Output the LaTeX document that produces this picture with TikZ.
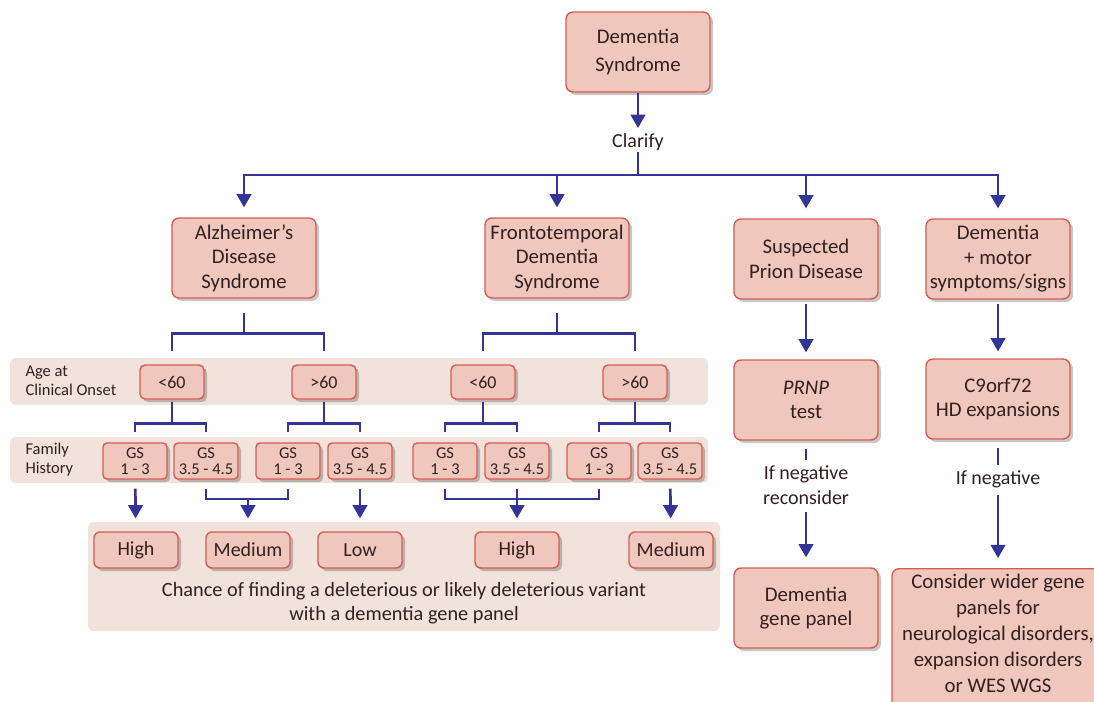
\documentclass[tikz,border=0pt]{standalone}
\usepackage{fontspec}
\setmainfont{Carlito}
\usetikzlibrary{arrows,shadows}

\definecolor{boxfill}{RGB}{239,199,189}
\definecolor{boxline}{RGB}{214,92,84}
\definecolor{bandfill}{RGB}{242,226,220}
\definecolor{linkblue}{RGB}{52,52,150}
\definecolor{inktext}{RGB}{50,32,32}

\begin{document}
\begin{tikzpicture}[x=1pt,y=-1pt,>=triangle 60,
        main node/.style={rectangle,rounded corners=7pt,draw=boxline,line width=1.4pt,
          fill=boxfill,text=inktext,align=center,inner sep=2pt,
          minimum width=144pt,minimum height=80pt,
          font=\fontsize{20.8}{24.5}\selectfont,
          drop shadow={shadow xshift=3pt,shadow yshift=-3pt,opacity=0.22,fill=black}},
        age node/.style={main node,rounded corners=5pt,minimum width=64pt,minimum height=34pt,
          font=\fontsize{18}{20}\selectfont},
        gs node/.style={main node,rounded corners=4pt,minimum width=64pt,minimum height=36pt,
          inner sep=1pt,font=\fontsize{16.5}{15.5}\selectfont},
        result node/.style={main node,rounded corners=6pt,minimum width=84pt,minimum height=36pt,
          font=\fontsize{20}{22}\selectfont},
        band/.style={fill=bandfill,rounded corners=6pt},
        label text/.style={text=inktext,align=center,font=\fontsize{20}{24.5}\selectfont},
        band text/.style={text=inktext,align=left,anchor=west,font=\fontsize{16.5}{19}\selectfont},
        link/.style={draw=linkblue,line width=2.7pt}]
        \useasboundingbox (0,0) rectangle (1094,701);

        % background bands
        \fill[band] (10,358) rectangle (708,405);
        \fill[band] (10,437) rectangle (708,483);
        \fill[band] (88,522) rectangle (720,631);
        \node[band text] (onset) at (22,381) {Age at\\Clinical Onset};
        \node[band text] (family) at (22,460) {Family\\History};

        % top of the tree
        \node[main node,font=\fontsize{20.8}{28}\selectfont] (top) at (638,52) {Dementia\\Syndrome};
        \node[label text] (clarify) at (638,142) {Clarify};
        \coordinate (split) at (638,175);

        \node[main node] (ad) at (244,258) {Alzheimer’s\\Disease\\Syndrome};
        \node[main node] (ftd) at (557,258) {Frontotemporal\\Dementia\\Syndrome};
        \node[main node] (prion) at (806,259) {Suspected\\Prion Disease};
        \node[main node] (motor) at (998,259) {Dementia\\+ motor\\symptoms/signs};

        % age at onset
        \node[age node] (ad young) at (172,382) {<60};
        \node[age node] (ad old) at (324,382) {>60};
        \node[age node] (ftd young) at (483,382) {<60};
        \node[age node] (ftd old) at (635,382) {>60};

        % family history scores
        \node[gs node] (g1) at (135,461) {GS\\1 - 3};
        \node[gs node] (g2) at (206,461) {GS\\3.5 - 4.5};
        \node[gs node] (g3) at (288,461) {GS\\1 - 3};
        \node[gs node] (g4) at (360,461) {GS\\3.5 - 4.5};
        \node[gs node] (g5) at (445,461) {GS\\1 - 3};
        \node[gs node] (g6) at (517,461) {GS\\3.5 - 4.5};
        \node[gs node] (g7) at (599,461) {GS\\1 - 3};
        \node[gs node] (g8) at (670,461) {GS\\3.5 - 4.5};

        % chance of a finding
        \node[result node] (r1) at (136,550) {High};
        \node[result node] (r2) at (248,550) {Medium};
        \node[result node] (r3) at (360,550) {Low};
        \node[result node] (r4) at (517,550) {High};
        \node[result node] (r5) at (671,550) {Medium};
        \node[label text,font=\fontsize{20.3}{24}\selectfont] (chance) at (404,603)
          {Chance of finding a deleterious or likely deleterious variant\\with a dementia gene panel};
        \coordinate (m1) at (248,499);
        \coordinate (m2) at (517,499);

        % right hand columns
        \node[main node] (prnp) at (806,400) {\textit{PRNP}\\test};
        \node[label text] (neg1) at (806,485) {If negative\\reconsider};
        \node[main node] (panel) at (806,608) {Dementia\\gene panel};
        \node[main node] (c9) at (998,399) {C9orf72\\HD expansions};
        \node[label text] (neg2) at (998,479) {If negative};
        \node[main node,minimum width=212pt,minimum height=0pt,inner ysep=5pt,anchor=north,
          font=\fontsize{20.8}{26.2}\selectfont] (wide) at (998,568)
          {Consider wider gene\\panels for\\neurological disorders,\\expansion disorders\\or WES WGS\\[-4pt]};

        % connectors
        \draw[link,->,shorten >=2pt] (top) -- (clarify);
        \draw[link,shorten <=-2pt] (clarify) -- (split);
        \draw[link,->,shorten >=10pt] (split) -| (ad);
        \draw[link,->,shorten >=10pt] (split) -| (ftd);
        \draw[link,->,shorten >=10pt] (split) -| (prion);
        \draw[link,->,shorten >=10pt] (split) -| (motor);

        \draw[link,shorten <=14pt,shorten >=13pt] (ad.south) -- ++(0,35) -| (ad young.north);
        \draw[link,shorten <=14pt,shorten >=13pt] (ad.south) -- ++(0,35) -| (ad old.north);
        \draw[link,shorten <=14pt,shorten >=13pt] (ftd.south) -- ++(0,35) -| (ftd young.north);
        \draw[link,shorten <=14pt,shorten >=13pt] (ftd.south) -- ++(0,35) -| (ftd old.north);

        \draw[link,shorten <=2pt,shorten >=10pt] (ad young.south) -- ++(0,24) -| (g1.north);
        \draw[link,shorten <=2pt,shorten >=10pt] (ad young.south) -- ++(0,24) -| (g2.north);
        \draw[link,shorten <=2pt,shorten >=10pt] (ad old.south) -- ++(0,24) -| (g3.north);
        \draw[link,shorten <=2pt,shorten >=10pt] (ad old.south) -- ++(0,24) -| (g4.north);
        \draw[link,shorten <=2pt,shorten >=10pt] (ftd young.south) -- ++(0,24) -| (g5.north);
        \draw[link,shorten <=2pt,shorten >=10pt] (ftd young.south) -- ++(0,24) -| (g6.north);
        \draw[link,shorten <=2pt,shorten >=10pt] (ftd old.south) -- ++(0,24) -| (g7.north);
        \draw[link,shorten <=2pt,shorten >=10pt] (ftd old.south) -- ++(0,24) -| (g8.north);

        \draw[link,->,shorten <=9pt,shorten >=13pt] (g1) -- (r1);
        \draw[link,shorten <=9pt,shorten >=9pt] (g2.south) |- (m1) -| (g3.south);
        \draw[link,->,shorten >=13pt] (m1) -- (r2);
        \draw[link,->,shorten <=9pt,shorten >=13pt] (g4) -- (r3);
        \draw[link,shorten <=9pt,shorten >=9pt] (g5.south) |- (m2) -| (g7.south);
        \draw[link,->,shorten <=9pt,shorten >=13pt] (g6) -- (r4);
        \draw[link,->,shorten <=9pt,shorten >=13pt] (g8) -- (r5);

        \draw[link,->,shorten <=4pt,shorten >=7pt] (prion) -- (prnp);
        \draw[link,shorten <=8pt,shorten >=2pt] (prnp) -- (neg1);
        \draw[link,->,shorten <=4pt,shorten >=10pt] (neg1) -- (panel);
        \draw[link,->,shorten <=4pt,shorten >=7pt] (motor) -- (c9);
        \draw[link,shorten <=8pt,shorten >=2pt] (c9) -- (neg2);
        \draw[link,->,shorten <=4pt,shorten >=10pt] (neg2) -- (wide);
\end{tikzpicture}
\end{document}
